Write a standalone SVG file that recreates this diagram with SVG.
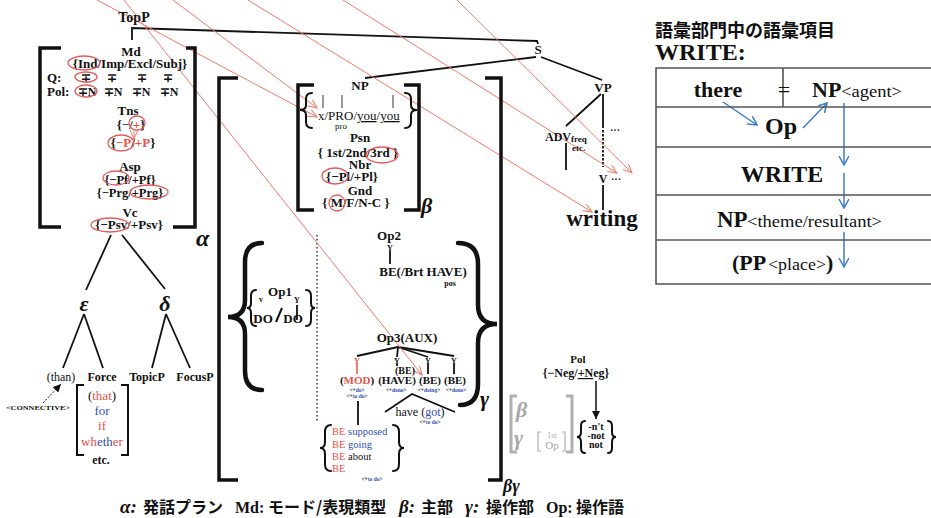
<svg xmlns="http://www.w3.org/2000/svg" width="931" height="518" viewBox="0 0 931 518">
<defs>
<style>
.b{font-family:"Liberation Serif","Times New Roman",serif;font-weight:700;fill:#111}
.r{font-family:"Liberation Serif","Times New Roman",serif;font-weight:400;fill:#111}
.bi{font-family:"Liberation Serif","Times New Roman",serif;font-weight:700;font-style:italic;fill:#111}
.cjk{font-family:"Noto Sans CJK JP",sans-serif;font-weight:700;fill:#111}
.red{fill:#e8524a}
.blue{fill:#2f4fb8}
.gray{fill:#a8a8a8}
.tag{font-family:"Liberation Serif",serif;font-weight:700;font-size:5.5px;fill:#111}
.ell{fill:none;stroke:#e55b5b;stroke-width:1.3}
.ln{stroke:#111;stroke-width:1.8;fill:none}
.brk{stroke:#111;stroke-width:3.5;fill:none}
.brace{stroke:#111;stroke-width:2;fill:none;stroke-linecap:round}
.big{stroke:#111;stroke-width:4.5;fill:none;stroke-linecap:round}
.rl{stroke:#f07a6a;stroke-width:1;fill:none;marker-end:url(#ra)}
.bl{stroke:#3c7dc4;stroke-width:1.5;fill:none;marker-end:url(#ba)}
.tb{stroke:#555;stroke-width:1.6;fill:none}
</style>
<marker id="ra" markerUnits="userSpaceOnUse" markerWidth="12" markerHeight="10" refX="9" refY="4" orient="auto"><path d="M0,0 L9,4 L0,8" fill="none" stroke="#f07a6a" stroke-width="1"/></marker>
<marker id="ba" markerUnits="userSpaceOnUse" markerWidth="12" markerHeight="12" refX="9" refY="5" orient="auto"><path d="M0,0 L9,5 L0,10" fill="none" stroke="#3c7dc4" stroke-width="1.5"/></marker>
<marker id="ka" markerUnits="userSpaceOnUse" markerWidth="10" markerHeight="10" refX="8" refY="4" orient="auto"><path d="M0,0 L8,4 L0,8 z" fill="#111"/></marker>
</defs>
<rect width="931" height="518" fill="#fff"/>

<g id="connectors">
<polyline class="ln" points="132,40 132,28 537,41 538,44"/>
<line class="ln" x1="365" y1="78" x2="536" y2="57"/>
<line class="ln" x1="541" y1="57" x2="602" y2="80"/>
<line class="ln" x1="601" y1="94" x2="566" y2="126"/>
<line class="ln" x1="603" y1="94" x2="603" y2="128"/>
<line class="ln" x1="603" y1="130" x2="603" y2="167" stroke-dasharray="2.5,1.5"/>
<line class="ln" x1="566" y1="143" x2="566" y2="170"/>
<line class="ln" x1="603" y1="185" x2="603" y2="210"/>
<line class="ln" x1="111" y1="235" x2="86" y2="290"/>
<line class="ln" x1="122" y1="235" x2="165" y2="289"/>
<line class="ln" x1="84" y1="314" x2="63" y2="368"/>
<line class="ln" x1="84" y1="314" x2="103" y2="368"/>
<line class="ln" x1="166" y1="314" x2="152" y2="368"/>
<line class="ln" x1="166" y1="314" x2="190" y2="368"/>
<line x1="43" y1="403" x2="61" y2="384" stroke="#111" stroke-width="1" stroke-dasharray="2,1.5" marker-end="url(#ka)"/>
<line class="ln" x1="390" y1="251" x2="390" y2="264"/>
<line class="ln" x1="297" y1="305" x2="297" y2="320"/>
<line x1="276" y1="322" x2="282" y2="308" stroke="#111" stroke-width="2"/>
<line class="ln" x1="398" y1="347" x2="357" y2="356"/>
<line class="ln" x1="398" y1="347" x2="397" y2="357"/>
<line class="ln" x1="398" y1="347" x2="428" y2="357"/>
<line class="ln" x1="398" y1="347" x2="454" y2="356"/>
<line x1="357" y1="364" x2="357" y2="374" stroke="#e8524a" stroke-width="1.5"/>
<line class="ln" x1="397" y1="364" x2="397" y2="366"/>
<line class="ln" x1="428" y1="364" x2="428" y2="374"/>
<line class="ln" x1="454" y1="364" x2="454" y2="374"/>
<polyline class="ln" points="385,412 412,394 455,412"/>
<line class="ln" x1="358" y1="401" x2="358" y2="425"/>
<line x1="317" y1="235" x2="317" y2="422" stroke="#333" stroke-width="1.5" stroke-dasharray="1.5,2.5"/>
<line x1="596" y1="381" x2="596" y2="419" stroke="#111" stroke-width="1.5" marker-end="url(#ka)"/>
<line class="rl" x1="173" y1="0" x2="317" y2="108"/>
<line class="rl" x1="97" y1="0" x2="317" y2="117"/>
<line class="rl" x1="124" y1="0" x2="422" y2="375"/>
<line class="rl" x1="248" y1="0" x2="592" y2="212"/>
<line class="rl" x1="343" y1="0" x2="617" y2="173"/>
<line class="rl" x1="457" y1="0" x2="632" y2="173"/>
<line class="rl" x1="134" y1="130" x2="134" y2="139"/>
<line class="bl" x1="723" y1="102" x2="757" y2="125"/>
<line class="bl" x1="803" y1="128" x2="827" y2="103"/>
<line class="bl" x1="844" y1="103" x2="844" y2="165"/>
<line class="bl" x1="844" y1="173" x2="844" y2="208"/>
<line class="bl" x1="844" y1="232" x2="844" y2="267"/>
</g>

<g id="alpha">
<path class="brk" d="M61,48 H40 V227 H61 M186,48 H195 V227 H173" stroke-width="4"/>
<text class="bi" x="196" y="246" font-size="24">α</text>
</g>
<g id="topP"><text class="b" x="134" y="22" font-size="14" text-anchor="middle">TopP</text></g>
<g id="md">
<text class="b" x="131" y="56" font-size="13" text-anchor="middle">Md</text>
<text class="b" x="130" y="68" font-size="13" text-anchor="middle">{Ind/Imp/Excl/Subj}</text>
<ellipse class="ell" cx="84" cy="63" rx="16" ry="7"/>
<text class="b" x="47" y="82" font-size="13">Q:</text>
<text class="b" font-size="12" y="82" text-anchor="middle"><tspan x="86">∓</tspan><tspan x="112">∓</tspan><tspan x="142">∓</tspan><tspan x="168">∓</tspan></text>
<ellipse class="ell" cx="86" cy="77" rx="11" ry="5"/>
<text class="b" x="47" y="96" font-size="13">Pol:</text>
<text class="b" font-size="12" y="96" text-anchor="middle"><tspan x="87">∓N</tspan><tspan x="113">∓N</tspan><tspan x="141">∓N</tspan><tspan x="169">∓N</tspan></text>
<ellipse class="ell" cx="86" cy="91" rx="11" ry="6"/>
</g>
<g id="tns">
<text class="b" x="128" y="115" font-size="13" text-anchor="middle">Tns</text>
<text class="b" x="131" y="129" font-size="13" text-anchor="middle">{<tspan class="blue">−</tspan>/<tspan class="red">+</tspan>}</text>
<ellipse class="ell" cx="137" cy="123" rx="8" ry="7"/>
<text class="b" x="133" y="147" font-size="13" text-anchor="middle">{<tspan class="red">−P</tspan>/<tspan class="red">+P</tspan>}</text>
<ellipse class="ell" cx="121" cy="143" rx="13" ry="8"/>
</g>
<g id="asp">
<text class="b" x="130" y="171" font-size="13" text-anchor="middle">Asp</text>
<text class="b" x="130" y="184" font-size="12.5" text-anchor="middle">{−Pf/+Pf}</text>
<ellipse class="ell" cx="116" cy="178" rx="13" ry="7"/>
<text class="b" x="130" y="197" font-size="12.5" text-anchor="middle">{−Prg/+Prg}</text>
<ellipse class="ell" cx="149" cy="192" rx="19" ry="7"/>
</g>
<g id="vc">
<text class="b" x="130" y="217" font-size="13" text-anchor="middle">Vc</text>
<text class="b" x="129" y="229" font-size="13" text-anchor="middle">{−Psv/+Psv}</text>
<ellipse class="ell" cx="110" cy="225" rx="19" ry="7"/>
</g>
<g id="epsilon"><text class="bi" x="84" y="311" font-size="22" text-anchor="middle">ε</text></g>
<g id="delta"><text class="bi" x="165" y="311" font-size="22" text-anchor="middle">δ</text></g>
<g id="than"><text class="r" x="61" y="381" font-size="12" text-anchor="middle">(than)</text></g>
<g id="force"><text class="b" x="102" y="381" font-size="12" text-anchor="middle">Force</text></g>
<g id="topicP"><text class="b" x="147" y="381" font-size="12" text-anchor="middle">TopicP</text></g>
<g id="focusP"><text class="b" x="195" y="381" font-size="12" text-anchor="middle">FocusP</text></g>
<g id="connective"><text class="b" x="38" y="410" font-size="7" text-anchor="middle" textLength="64" lengthAdjust="spacingAndGlyphs">&lt;CONNECTIVE&gt;</text></g>
<g id="forceList">
<path d="M84,385 H77 V455 H84 M121,385 H128 V455 H121" stroke="#111" stroke-width="2" fill="none"/>
<text class="r" x="102" y="400" font-size="13" text-anchor="middle">(<tspan class="red">that</tspan>)</text>
<text class="r blue" x="102" y="415" font-size="13" text-anchor="middle">for</text>
<text class="r red" x="102" y="430" font-size="13" text-anchor="middle">if</text>
<text class="r" x="102" y="446" font-size="13" text-anchor="middle"><tspan class="red">wh</tspan><tspan class="blue">eth</tspan><tspan class="red">er</tspan></text>
<text class="b" x="101" y="464" font-size="12" text-anchor="middle">etc.</text>
</g>

<g id="betagamma">
<path class="brk" d="M238,78 H219 V480 H238 M485,78 H501 V480 H488"/>
<text class="bi" x="503" y="492" font-size="18">βγ</text>
</g>
<g id="np">
<path class="brk" d="M314,85 H298 V210 H314 M404,85 H419 V210 H404" stroke-width="3"/>
<text class="bi" x="421" y="213" font-size="22">β</text>
<text class="b" x="360" y="90" font-size="13" text-anchor="middle">NP</text>
<path class="brace" d="M312,93 Q306,93 306,99 L306,105 Q306,110 300,110 Q306,110 306,115 L306,122 Q306,128 312,128"/>
<path class="brace" d="M405,93 Q411,93 411,99 L411,105 Q411,110 417,110 Q411,110 411,115 L411,122 Q411,128 405,128"/>
<line x1="323" y1="95" x2="323" y2="108" stroke="#333" stroke-width="1"/>
<line x1="342" y1="95" x2="342" y2="108" stroke="#333" stroke-width="1"/>
<line x1="393" y1="95" x2="393" y2="108" stroke="#333" stroke-width="1"/>
<text class="r" x="318" y="120" font-size="13">x/PRO/<tspan text-decoration="underline">you</tspan>/<tspan text-decoration="underline">you</tspan></text>
<text class="r" x="341" y="129" font-size="9" text-anchor="middle">pro</text>
<text class="b" x="360" y="142" font-size="13" text-anchor="middle">Psn</text>
<text class="b" x="358" y="157" font-size="13" text-anchor="middle">{ 1st/2nd/3rd }</text>
<ellipse class="ell" cx="382" cy="155" rx="16" ry="8"/>
<text class="b" x="360" y="169" font-size="13" text-anchor="middle">Nbr</text>
<text class="b" x="352" y="181" font-size="13" text-anchor="middle">{−Pl/+Pl}</text>
<ellipse class="ell" cx="335" cy="176" rx="13" ry="8"/>
<text class="b" x="360" y="195" font-size="13" text-anchor="middle">Gnd</text>
<text class="b" x="356" y="207" font-size="13" text-anchor="middle">{ M/F/N-C }</text>
<ellipse class="ell" cx="337" cy="203" rx="8" ry="8"/>
</g>

<g id="gamma">
<path class="big" d="M262,243 Q245,243 245,262 L245,300 Q245,317 228,317 Q245,317 245,334 L245,371 Q245,390 262,390"/>
<path class="big" d="M458,243 Q478,243 478,264 L478,305 Q478,324 497,324 Q478,324 478,343 L478,384 Q478,405 460,405"/>
<text class="bi" x="480" y="406" font-size="22">γ</text>
</g>
<g id="op1">
<path class="brace" d="M256,290 Q251,290 251,296 L251,303 Q251,308 247,308 Q251,308 251,313 L251,320 Q251,326 256,326" stroke-width="1.5"/>
<path class="brace" d="M306,290 Q311,290 311,296 L311,303 Q311,308 315,308 Q311,308 311,313 L311,320 Q311,326 306,326" stroke-width="1.5"/>
<text class="b" x="280" y="296" font-size="13" text-anchor="middle">Op1</text>
<text class="b" x="261" y="302" font-size="8" text-anchor="middle">v</text>
<text class="b" x="297" y="303" font-size="8" text-anchor="middle">Y</text>
<text class="b" x="263" y="323" font-size="13" text-anchor="middle">DO</text>
<text class="b" x="293" y="323" font-size="13" text-anchor="middle">DO</text>
</g>
<g id="op2">
<text class="b" x="389" y="240" font-size="13" text-anchor="middle">Op2</text>
<text class="b" x="390" y="251" font-size="8" text-anchor="middle">Y</text>
<text class="b" x="423" y="276" font-size="13" text-anchor="middle">BE(/Brt HAVE)</text>
<text class="b" x="450" y="286" font-size="8" text-anchor="middle">pos</text>
</g>
<g id="op3">
<text class="b" x="407" y="342" font-size="13" text-anchor="middle">Op3(AUX)</text>
<text class="b red" x="357" y="364" font-size="8" text-anchor="middle">Y</text>
<text class="b" x="397" y="364" font-size="8" text-anchor="middle">Y</text>
<text class="b" x="428" y="364" font-size="8" text-anchor="middle">Y</text>
<text class="b" x="454" y="364" font-size="8" text-anchor="middle">Y</text>
<text class="b" x="405" y="374" font-size="10" text-anchor="middle">(BE)</text>
<text class="b" x="357" y="384" font-size="11" text-anchor="middle">(<tspan class="red">MOD</tspan>)</text>
<text class="b" x="397" y="384" font-size="11" text-anchor="middle">(HAVE)</text>
<text class="b" x="430" y="384" font-size="11" text-anchor="middle">(BE)</text>
<text class="b" x="455" y="384" font-size="11" text-anchor="middle">(BE)</text>
<text class="tag" x="357" y="392" text-anchor="middle">&lt;+<tspan class="blue">do</tspan>&gt;</text>
<text class="tag" x="357" y="398" text-anchor="middle">&lt;+<tspan class="blue">to do</tspan>&gt;</text>
<text class="tag" x="396" y="392" text-anchor="middle">&lt;+<tspan class="blue">done</tspan>&gt;</text>
<text class="tag" x="429" y="392" text-anchor="middle">&lt;+<tspan class="blue">doing</tspan>&gt;</text>
<text class="tag" x="456" y="392" text-anchor="middle">&lt;+<tspan class="blue">done</tspan>&gt;</text>
<text class="r" x="420" y="416" font-size="12" text-anchor="middle">have (<tspan class="blue">got</tspan>)</text>
<text class="tag" x="430" y="424" text-anchor="middle">&lt;+<tspan class="blue">to do</tspan>&gt;</text>
</g>
<g id="beList">
<path class="brace" d="M331,425 Q325,425 325,432 L325,442 Q325,448 320,448 Q325,448 325,454 L325,464 Q325,471 331,471" stroke-width="1.6"/>
<path class="brace" d="M393,425 Q399,425 399,432 L399,442 Q399,448 404,448 Q399,448 399,454 L399,464 Q399,471 393,471" stroke-width="1.6"/>
<text class="r" x="332" y="435" font-size="10.5"><tspan class="red">BE</tspan> <tspan class="blue">supposed</tspan></text>
<text class="r" x="332" y="448" font-size="10.5"><tspan class="red">BE</tspan> <tspan class="blue">going</tspan></text>
<text class="r" x="332" y="460" font-size="10.5"><tspan class="red">BE</tspan> about</text>
<text class="r red" x="332" y="472" font-size="10.5">BE</text>
<text class="tag" x="372" y="481" text-anchor="middle">&lt;+<tspan class="blue">to do</tspan>&gt;</text>
</g>

<g id="s"><text class="b" x="538" y="54" font-size="13" text-anchor="middle">S</text></g>
<g id="vp"><text class="b" x="603" y="92" font-size="13" text-anchor="middle">VP</text></g>
<g id="adv">
<text class="b" x="545" y="141" font-size="12">ADV<tspan font-size="9" dy="1">freq</tspan></text>
<text class="b" x="572" y="151" font-size="9">etc.</text>
<text class="b" x="610" y="134" font-size="10">···</text>
</g>
<g id="v"><text class="b" x="603" y="183" font-size="12" text-anchor="middle">V</text><text class="b" x="611" y="183" font-size="10">···</text></g>
<g id="writing"><text class="b" x="602" y="226" font-size="23" text-anchor="middle">writing</text></g>

<g id="pol">
<text class="b" x="578" y="363" font-size="11" text-anchor="middle">Pol</text>
<text class="b" x="576" y="377" font-size="12" text-anchor="middle">{−Neg/<tspan text-decoration="underline">+N</tspan>eg}</text>
</g>
<g id="grayBox">
<path d="M517,396 H511 V452 H517 M566,396 H572 V452 H566" stroke="#b0b0b0" stroke-width="3" fill="none"/>
<text class="bi gray" x="516" y="417" font-size="22">β</text>
<text class="bi gray" x="514" y="445" font-size="22">γ</text>
<path d="M541,432 H538 V451 H541 M562,432 H565 V451 H562" stroke="#b0b0b0" stroke-width="1.2" fill="none"/>
<text class="r gray" x="552" y="438" font-size="8" text-anchor="middle">1st</text>
<text class="r gray" x="552" y="449" font-size="11" text-anchor="middle">Op</text>
</g>
<g id="negForms">
<path class="brace" d="M585,421 Q581,421 581,426 L581,432 Q581,437 577,437 Q581,437 581,442 L581,448 Q581,453 585,453" stroke-width="1.6"/>
<path class="brace" d="M608,421 Q612,421 612,426 L612,432 Q612,437 616,437 Q612,437 612,442 L612,448 Q612,453 608,453" stroke-width="1.6"/>
<text class="b" x="596" y="430" font-size="10" text-anchor="middle">-n't</text>
<text class="b" x="596" y="439" font-size="10" text-anchor="middle">-not</text>
<text class="b" x="596" y="448" font-size="10" text-anchor="middle">not</text>
</g>

<g id="lexTitle">
<text class="cjk" x="655" y="37" font-size="18">語彙部門中の語彙項目</text>
<text class="b" x="655" y="60" font-size="24">WRITE:</text>
</g>
<g id="lexTable">
<path class="tb" d="M931,68 H656 V284 H931 M656,107 H931 M656,147 H931 M656,195 H931 M656,240 H931 M783,68 V107"/>
</g>
<g id="row1">
<text class="b" x="718" y="97" font-size="22" text-anchor="middle">there</text>
<text class="r" x="784" y="97" font-size="22" text-anchor="middle">=</text>
<text class="b" x="812" y="97" font-size="22">NP</text>
<text class="r" x="841" y="97" font-size="16" textLength="61" lengthAdjust="spacingAndGlyphs">&lt;agent&gt;</text>
</g>
<g id="row2"><text class="b" x="781" y="134" font-size="24" text-anchor="middle">Op</text></g>
<g id="row3"><text class="b" x="782" y="182" font-size="24" text-anchor="middle">WRITE</text></g>
<g id="row4">
<text class="b" x="717" y="227" font-size="23">NP</text>
<text class="r" x="747" y="227" font-size="17" textLength="135" lengthAdjust="spacingAndGlyphs">&lt;theme/resultant&gt;</text>
</g>
<g id="row5">
<text class="b" x="732" y="270" font-size="22">(PP</text>
<text class="r" x="768" y="270" font-size="17" textLength="58" lengthAdjust="spacingAndGlyphs">&lt;place&gt;</text>
<text class="b" x="826" y="270" font-size="22">)</text>
</g>

<g id="caption">
<text class="bi" x="120" y="513" font-size="19">α:</text>
<text class="cjk" x="143" y="513" font-size="16">発話プラン</text>
<text class="b" x="235" y="513" font-size="16">Md:</text>
<text class="cjk" x="268" y="513" font-size="16">モード/表現類型</text>
<text class="bi" x="399" y="513" font-size="19">β:</text>
<text class="cjk" x="421" y="513" font-size="16">主部</text>
<text class="bi" x="465" y="513" font-size="19">γ:</text>
<text class="cjk" x="486" y="513" font-size="16">操作部</text>
<text class="b" x="546" y="513" font-size="16">Op:</text>
<text class="cjk" x="576" y="513" font-size="16">操作語</text>
</g>
</svg>
